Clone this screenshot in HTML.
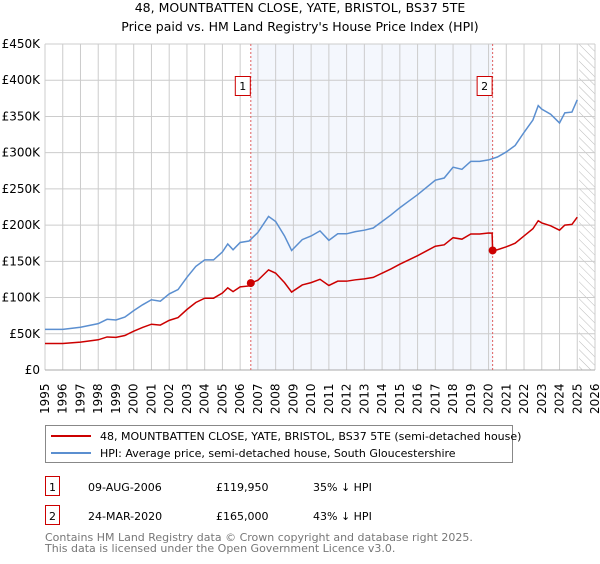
<!DOCTYPE html>
<html><head><meta charset="utf-8"><style>
body{margin:0;background:#fff;font-family:"DejaVu Sans","Liberation Sans",sans-serif;}
svg text{font-family:"DejaVu Sans","Liberation Sans",sans-serif;}
</style></head><body>
<svg id="c" width="600" height="560" xmlns="http://www.w3.org/2000/svg">
<text x="300" y="12" text-anchor="middle" font-size="12.5" fill="#000">48, MOUNTBATTEN CLOSE, YATE, BRISTOL, BS37 5TE</text>
<text x="300" y="31" text-anchor="middle" font-size="12.5" fill="#000">Price paid vs. HM Land Registry's House Price Index (HPI)</text>
<g id="plot"></g>
<g>
<rect x="45.5" y="425.5" width="467" height="37" fill="#fff" stroke="#888"/>
<line x1="51" y1="436" x2="91" y2="436" stroke="#cc0000" stroke-width="2"/>
<text x="100" y="440" font-size="11">48, MOUNTBATTEN CLOSE, YATE, BRISTOL, BS37 5TE (semi-detached house)</text>
<line x1="51" y1="453" x2="91" y2="453" stroke="#5b8fd0" stroke-width="2"/>
<text x="100" y="457" font-size="11">HPI: Average price, semi-detached house, South Gloucestershire</text>
</g>
<g>
<rect x="45.5" y="476.5" width="14" height="19" fill="#fff" stroke="#cc0000"/>
<text x="52.5" y="491" font-size="11" text-anchor="middle">1</text>
<text x="88" y="491" font-size="11">09-AUG-2006</text>
<text x="216" y="491" font-size="11">£119,950</text>
<text x="313" y="491" font-size="11">35% ↓ HPI</text>
<rect x="45.5" y="505.5" width="14" height="19" fill="#fff" stroke="#cc0000"/>
<text x="52.5" y="520" font-size="11" text-anchor="middle">2</text>
<text x="88" y="520" font-size="11">24-MAR-2020</text>
<text x="216" y="520" font-size="11">£165,000</text>
<text x="313" y="520" font-size="11">43% ↓ HPI</text>
</g>
<text x="45" y="541" font-size="11" fill="#777">Contains HM Land Registry data © Crown copyright and database right 2025.</text>
<text x="45" y="552" font-size="11" fill="#777">This data is licensed under the Open Government Licence v3.0.</text>
</svg>
<script>
const hpiYears=[1995,1996,1997,1998,1998.5,1999,1999.5,2000,2000.5,2001,2001.5,2002,2002.5,2003,2003.5,2004,2004.5,2005,2005.3,2005.6,2006,2006.5,2007,2007.6,2008,2008.5,2008.9,2009.5,2010,2010.5,2011,2011.5,2012,2012.5,2013,2013.5,2014,2014.5,2015,2015.5,2016,2016.5,2017,2017.5,2018,2018.5,2019,2019.5,2020,2020.5,2021,2021.5,2022,2022.5,2022.8,2023,2023.5,2024,2024.3,2024.7,2025];
const hpiValues=[56,56,59,64,70,69,73,82,90,97,95,105,111,128,143,152,152,163,174,166,176,178,190,212,205,185,165,180,185,192,179,188,188,191,193,196,205,214,224,233,242,252,262,265,280,277,288,288,290,294,301,310,328,345,365,360,353,341,355,356,373];
const propYears=[1995,1996,1997,1998,1998.5,1999,1999.5,2000,2000.5,2001,2001.5,2002,2002.5,2003,2003.5,2004,2004.5,2005,2005.3,2005.6,2006,2006.5,2006.6,2007,2007.6,2008,2008.5,2008.9,2009.5,2010,2010.5,2011,2011.5,2012,2012.5,2013,2013.5,2014,2014.5,2015,2015.5,2016,2016.5,2017,2017.5,2018,2018.5,2019,2019.5,2020,2020.2,2020.23,2020.5,2021,2021.5,2022,2022.5,2022.8,2023,2023.5,2024,2024.3,2024.7,2025];
const propValues=[36.5,36.5,38.5,41.7,45.6,45,47.6,53.5,58.7,63.2,62,68.5,72.4,83.5,93.2,99.1,99.1,106.3,113.4,108.2,114.8,116,119.95,123.9,138.2,133.7,120.6,107.6,117.4,120.6,125.2,116.7,122.6,122.6,124.5,125.8,127.8,133.7,139.5,146,151.9,157.8,164.3,170.8,172.8,182.6,180.6,187.8,187.8,189.1,189,165,166,170,175,185,195,206,203,199,193,200,201,211];
const saleYears=[2006.6,2020.23];
const saleValues=[119.95,165];
const saleLabels=["1","2"];
const yTicks=[0,50,100,150,200,250,300,350,400,450];
const yTickLabels=["£0","£50K","£100K","£150K","£200K","£250K","£300K","£350K","£400K","£450K"];
const xTicks=[1995,1996,1997,1998,1999,2000,2001,2002,2003,2004,2005,2006,2007,2008,2009,2010,2011,2012,2013,2014,2015,2016,2017,2018,2019,2020,2021,2022,2023,2024,2025,2026];

const L=45,R=595,T=44,B=370;
const x=v=>L+(v-1995)/(2026-1995)*(R-L);
const y=v=>B-v/450*(B-T);
const NS="http://www.w3.org/2000/svg";
const g=document.getElementById('plot');
function mk(t,a){const e=document.createElementNS(NS,t);for(const k in a)e.setAttribute(k,a[k]);g.appendChild(e);return e;}

const band=mk('rect',{x:x(saleYears[0]),y:T,width:x(saleYears[1])-x(saleYears[0]),height:B-T,fill:'#f4f7fd'});


const defs=document.createElementNS(NS,'defs');defs.innerHTML='<pattern id="h" width="6" height="6" patternUnits="userSpaceOnUse" patternTransform="rotate(-45)"><line x1="0" y1="0" x2="0" y2="6" stroke="#bbb" stroke-width="1"/></pattern>';g.appendChild(defs);
const hatch=mk('rect',{x:x(2025.1),y:T,width:R-x(2025.1),height:B-T,fill:'url(#h)'});



yTicks.forEach((v,i)=>{
 const l=mk('line',{x1:L,x2:R,y1:y(v),y2:y(v),stroke:'#ccc'});
 
 
 const t=mk('text',{x:L-5,y:y(v)+4,'text-anchor':'end','font-size':12});
 t.textContent=yTickLabels[i];
 
 
});
xTicks.forEach(v=>{
 const l=mk('line',{x1:x(v),x2:x(v),y1:T,y2:B,stroke:'#ccc'});
 
 
 const t=mk('text',{x:0,y:0,'font-size':12,transform:`translate(${x(v)+4},${B+44}) rotate(-90)`});
 t.textContent=v;
 
 
});
const ax=mk('line',{x1:L,x2:R,y1:B,y2:B,stroke:'#aaa'});



saleYears.forEach((s,i)=>{
 const l=mk('line',{x1:x(s),x2:x(s),y1:T,y2:B,stroke:'#e06060','stroke-dasharray':'2,2'});
 
 
 const bx=mk('rect',{x:x(s)-15.5,y:76.5,width:15,height:19,fill:'#fff',stroke:'#cc0000'});
 
 
 const t=mk('text',{x:x(s)-8,y:90,'text-anchor':'middle','font-size':11});
 t.textContent=saleLabels[i];
 
 
});

const hp=mk('polyline',{points:hpiYears.map((v,i)=>x(v)+','+y(hpiValues[i])).join(' '),fill:'none',stroke:'#5b8fd0','stroke-width':1.5});


const pp=mk('polyline',{points:propYears.map((v,i)=>x(v)+','+y(propValues[i])).join(' '),fill:'none',stroke:'#cc0000','stroke-width':1.5});


saleYears.forEach((s,i)=>{
 const c=mk('circle',{cx:x(s),cy:y(saleValues[i]),r:4,fill:'#cc0000'});
 
 
});
</script>
</body></html>
